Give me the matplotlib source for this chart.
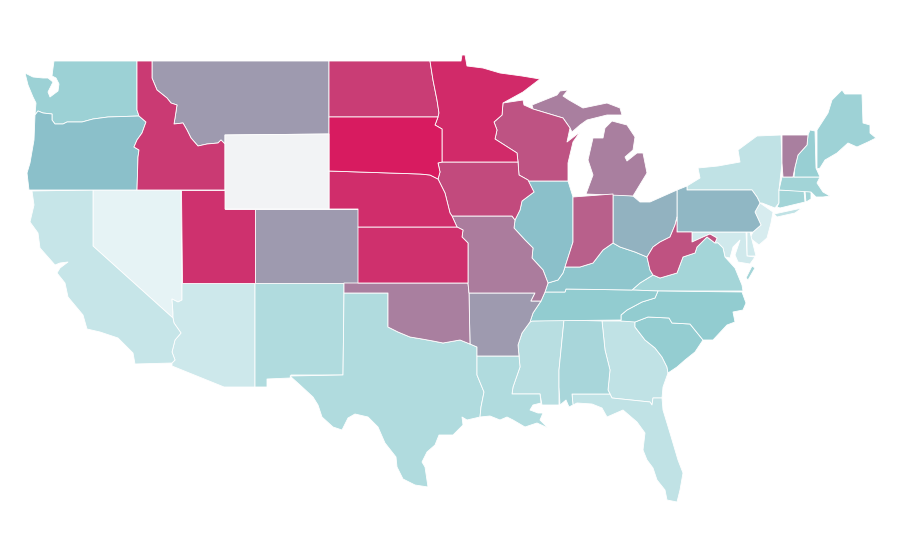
# -*- coding: utf-8 -*-

import matplotlib
matplotlib.use('Agg')
import matplotlib.pyplot as plt
import numpy as np
from matplotlib.collections import PolyCollection
from matplotlib.colors import LinearSegmentedColormap, Normalize

# share of the scale for each state (Wyoming has no data)
states = ['NV', 'NJ', 'DE', 'MD', 'AZ', 'CA', 'NY', 'GA', 'FL', 'MS', 'NM', 'TX', 'LA', 'AL', 'VA',
          'CT', 'RI', 'MA', 'ME', 'WA', 'NH', 'SC', 'NC', 'TN', 'KY', 'OR', 'IL', 'PA', 'OH',
          'MT', 'CO', 'AR', 'OK', 'MI', 'VT', 'MO', 'IN', 'WI', 'WV', 'IA', 'ID', 'ND', 'UT',
          'KS', 'NE', 'MN', 'SD', 'WY']
values = [0.0, 0.08, 0.12, 0.12, 0.13, 0.17, 0.20, 0.20, 0.20, 0.23, 0.25, 0.25, 0.25, 0.28, 0.29,
          0.30, 0.30, 0.30, 0.31, 0.32, 0.33, 0.345, 0.35, 0.35, 0.385, 0.42, 0.42, 0.44, 0.45,
          0.50, 0.50, 0.50, 0.60, 0.60, 0.60, 0.61, 0.71, 0.75, 0.76, 0.79, 0.86, 0.85, 0.90,
          0.91, 0.92, 0.93, 1.0, np.nan]

# colour scale
scale_stops = [0.0, 0.2, 0.35, 0.42, 0.5, 0.6, 0.75, 1.0]
scale_colors = ['#E6F3F5', '#C0E2E5', '#92CCD0', '#8BC0CA', '#9E9BAF', '#A97F9F', '#BE5483', '#D81B60']
no_data_color = '#F2F3F5'

# map outlines, in picture pixels
outlines = {
    'WA': [[(54,61),(137,61),(137,110),(139,116),(108,117),(93,119),(82,122),(67,122),(63,124),(55,124),(52,120),(52,114),(43,113),(38,111),(35,115),(36,103),(33,97),(28,85),(25,73),(33,77),(43,78),(48,78),(53,82),(48,92),(50,97),(58,91),(59,84),(56,78),(52,76),(53,68)]],
    'OR': [[(35,115),(38,111),(43,113),(52,114),(52,120),(55,124),(63,124),(67,122),(82,122),(93,119),(108,117),(139,116),(146,122),(142,133),(137,140),(134,147),(139,150),(138,157),(137,190),(29,190),(27,173),(30,163),(34,140)]],
    'ID': [[(137,61),(152,61),(152,78),(157,90),(167,98),(171,103),(177,105),(175,118),(174,124),(183,123),(187,130),(191,138),(198,146),(207,144),(218,143),(221,140),(225,144),(225,190),(137,190),(138,157),(139,150),(134,147),(137,140),(142,133),(146,122),(139,116),(137,110)]],
    'MT': [[(152,61),(329,61),(329,134),(225,135),(225,144),(221,140),(218,143),(207,144),(198,146),(191,138),(187,130),(183,123),(174,124),(175,118),(177,105),(171,103),(167,98),(157,90),(152,78)]],
    'WY': [[(225,135),(329,134),(329,209),(225,209)]],
    'NV': [[(93,190),(181,190),(182,283),(182,300),(178,302),(172,299),(173,313),(173,318),(93,246)]],
    'CA': [[(32,191),(93,190),(93,246),(173,318),(174,323),(181,333),(175,340),(172,352),(175,360),(172,363),(135,364),(133,353),(118,338),(100,332),(87,329),(83,315),(68,297),(65,283),(57,273),(60,268),(68,262),(60,263),(55,265),(40,248),(38,233),(30,222),(34,205)]],
    'UT': [[(181,190),(225,190),(225,209),(255,209),(255,283),(182,283)]],
    'AZ': [[(182,283),(255,283),(255,387),(224,387),(172,366),(172,363),(175,360),(172,352),(175,340),(181,333),(174,323),(173,318),(173,313),(172,299),(178,302),(182,300)]],
    'CO': [[(255,209),(358,209),(358,283),(255,283)]],
    'NM': [[(255,283),(344,283),(344,293),(343,375),(291,375),(290,378),(267,379),(267,387),(255,387)]],
    'OK': [[(344,283),(468,283),(469,293),(470,344),(460,340),(443,343),(433,341),(422,339),(410,337),(398,332),(388,327),(388,293),(344,293)]],
    'TX': [[(344,293),(388,293),(388,327),(398,332),(410,337),(422,339),(433,341),(443,343),(460,340),(470,344),(477,347),(477,375),(484,392),(481,407),(480,417),(467,420),(462,417),(463,425),(453,435),(439,435),(435,445),(427,452),(422,462),(425,467),(428,487),(415,485),(403,479),(397,467),(396,457),(385,443),(378,427),(368,417),(355,414),(348,418),(342,430),(333,427),(322,417),(318,405),(313,397),(300,385),(290,376),(343,375)]],
    'LA': [[(477,356),(519,356),(520,367),(513,387),(512,394),(540,394),(541,403),(533,405),(530,410),(538,413),(543,413),(540,420),(548,428),(537,423),(525,427),(513,420),(507,417),(500,420),(490,416),(480,417),(481,407),(484,392),(477,375)]],
    'AR': [[(469,293),(535,293),(531,301),(541,301),(533,313),(530,322),(522,333),(518,345),(519,356),(477,356),(477,347),(470,344)]],
    'MO': [[(452,216),(512,216),(515,220),(514,228),(525,240),(533,248),(532,258),(543,270),(548,283),(545,292),(541,301),(531,301),(535,293),(469,293),(468,283),(468,243),(462,237),(463,230),(457,227)]],
    'KS': [[(358,227),(457,227),(463,230),(462,237),(468,243),(468,283),(358,283)]],
    'NE': [[(329,171),(420,174),(430,175),(438,179),(445,193),(450,213),(452,216),(457,227),(358,227),(358,209),(329,209)]],
    'SD': [[(329,117),(438,117),(435,125),(442,129),(442,162),(438,163),(440,172),(438,179),(430,175),(420,174),(329,171)]],
    'ND': [[(329,61),(430,61),(433,80),(437,100),(439,113),(438,117),(329,117)]],
    'MN': [[(430,61),(461,61),(462,55),(465,55),(467,66),(483,68),(500,73),(522,76),(540,79),(523,92),(503,103),(502,115),(494,122),(497,130),(495,139),(517,153),(518,162),(442,162),(442,129),(435,125),(438,117),(439,113),(437,100),(433,80)]],
    'IA': [[(442,162),(518,162),(519,175),(528,180),(534,192),(522,201),(520,210),(515,220),(512,216),(452,216),(450,213),(445,193),(438,179),(440,172),(438,163)]],
    'WI': [[(503,103),(523,100),(524,105),(533,109),(563,118),(570,128),(567,142),(580,132),(573,142),(568,163),(568,181),(528,181),(528,180),(519,175),(518,162),(517,153),(495,139),(497,130),(494,122),(502,115)]],
    'IL': [[(528,181),(568,181),(573,197),(573,242),(565,267),(563,273),(558,280),(548,283),(543,270),(532,258),(533,248),(525,240),(514,228),(515,220),(520,210),(522,201),(534,192)]],
    'IN': [[(573,197),(613,194),(613,243),(603,250),(593,263),(580,267),(565,267),(573,242)]],
    'OH': [[(613,194),(633,196),(640,202),(650,202),(677,190),(677,217),(675,225),(670,237),(660,242),(653,247),(647,257),(635,252),(620,247),(613,243)]],
    'MI': [[(586,194),(633,196),(647,173),(643,153),(637,153),(627,161),(625,157),(633,150),(635,137),(627,125),(612,121),(605,128),(603,138),(593,138),(588,160),(593,175)],
           [(533,109),(532,105),(557,95),(560,91),(568,90),(563,96),(569,100),(583,108),(607,103),(620,108),(622,115),(607,115),(587,120),(580,125),(572,132),(570,128),(563,118)]],
    'KY': [[(548,283),(558,280),(563,273),(565,267),(580,267),(593,263),(603,250),(613,243),(620,247),(635,252),(647,257),(650,270),(653,275),(640,283),(632,290),(566,289),(565,292),(545,292)]],
    'TN': [[(545,292),(565,292),(566,289),(632,290),(658,291),(655,298),(642,302),(627,310),(621,315),(621,320),(532,321),(530,322),(533,313),(541,301)]],
    'VA': [[(632,290),(640,283),(653,275),(660,278),(677,273),(683,257),(695,253),(697,247),(707,237),(715,243),(718,243),(723,248),(725,257),(735,268),(742,285),(743,291),(658,291)],
           [(752,266),(755,268),(748,280),(746,278)]],
    'WV': [[(677,217),(677,232),(692,232),(692,242),(703,237),(710,234),(717,238),(715,243),(707,237),(697,247),(695,253),(683,257),(677,273),(660,278),(653,275),(650,270),(647,257),(653,247),(660,242),(670,237),(675,225)]],
    'PA': [[(677,190),(687,186),(687,190),(752,190),(757,197),(760,203),(755,212),(761,225),(753,232),(677,232)]],
    'NY': [[(687,186),(700,178),(698,168),(718,166),(740,162),(738,150),(757,136),(781,135),(782,163),(779,190),(779,203),(775,208),(762,203),(760,203),(757,197),(752,190),(687,190)],
           [(774,214),(802,208),(795,213),(777,217)]],
    'NJ': [[(760,203),(773,212),(771,223),(767,238),(759,245),(750,238),(753,232),(761,225),(755,212)]],
    'DE': [[(747,232),(750,232),(756,256),(747,256)]],
    'MD': [[(692,232),(746,232),(747,256),(755,257),(750,264),(738,262),(735,255),(740,240),(733,247),(730,258),(725,257),(723,248),(718,243),(715,243),(717,238),(710,234),(703,237),(692,242)]],
    'CT': [[(779,190),(804,191),(805,202),(780,208),(777,207),(779,203)]],
    'RI': [[(805,191),(811,192),(811,199),(806,202)]],
    'MA': [[(782,177),(815,177),(820,177),(817,183),(823,192),(830,196),(823,197),(816,197),(811,192),(779,190)]],
    'VT': [[(782,135),(808,135),(807,145),(798,155),(795,167),(793,177),(783,177),(782,163)]],
    'NH': [[(810,130),(815,131),(816,168),(820,177),(794,177),(795,167),(798,155),(807,145),(808,135)]],
    'ME': [[(817,130),(828,113),(832,100),(842,90),(845,94),(862,94),(863,123),(870,125),(870,133),(876,138),(868,142),(857,147),(848,143),(837,153),(825,160),(820,168),(817,169)]],
    'NC': [[(658,291),(742,292),(746,303),(743,310),(733,312),(735,322),(727,325),(713,340),(703,340),(690,324),(672,323),(669,318),(648,317),(635,322),(621,321),(621,315),(627,310),(642,302),(655,298)]],
    'SC': [[(635,322),(648,317),(669,318),(672,323),(690,324),(703,340),(695,352),(685,360),(677,367),(668,373),(667,367),(662,357),(655,348),(645,340),(635,327)]],
    'GA': [[(602,321),(635,321),(635,327),(645,340),(655,348),(662,357),(667,367),(668,373),(663,387),(662,398),(653,398),(652,405),(650,402),(612,398),(608,390),(610,370),(605,350)]],
    'AL': [[(564,320),(602,321),(605,350),(610,370),(608,390),(610,394),(572,394),(573,405),(569,407),(566,400),(560,405),(559,387),(559,370)]],
    'MS': [[(532,321),(564,320),(559,370),(559,405),(553,405),(542,405),(540,394),(512,394),(513,387),(520,367),(519,356),(518,345),(522,333),(530,322)]],
    'FL': [[(572,394),(610,394),(612,398),(650,402),(652,405),(653,398),(662,398),(663,410),(670,433),(678,460),(683,473),(680,490),(677,502),(667,500),(665,490),(657,480),(653,468),(647,460),(643,450),(645,433),(637,422),(623,410),(607,417),(602,408),(592,404),(577,403),(573,405)]],
}

cmap = LinearSegmentedColormap.from_list('scale', list(zip(scale_stops, scale_colors)))
cmap.set_bad(no_data_color)

polys = []
poly_values = []
for name, value in zip(states, values):
    for part in outlines[name]:
        polys.append(part)
        poly_values.append(value)

fig = plt.figure(figsize=(9, 5.6), dpi=100)
ax = fig.add_axes([0, 0, 1, 1])
coll = PolyCollection(polys, array=np.ma.masked_invalid(poly_values), cmap=cmap,
                      norm=Normalize(0, 1), edgecolors='white', linewidths=0.6)
ax.add_collection(coll)
ax.set_xlim(0, 900)
ax.set_ylim(560, 0)
ax.axis('off')
fig.savefig('out.png', dpi=100)
